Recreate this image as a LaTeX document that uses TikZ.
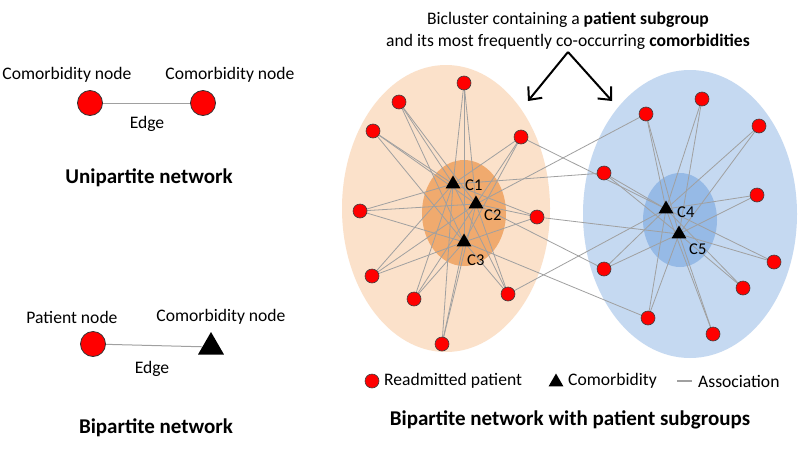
\documentclass[tikz,border=0pt]{standalone}
\usepackage{fontspec}
\setmainfont{Carlito}
\usetikzlibrary{shapes.geometric,arrows.meta}
\pgfdeclarelayer{bg}
\pgfdeclarelayer{edges}
\pgfsetlayers{bg,edges,main}
\definecolor{orout}{RGB}{251,225,202}
\definecolor{orin}{RGB}{240,170,110}
\definecolor{blout}{RGB}{197,217,241}
\definecolor{blin}{RGB}{150,186,230}
\definecolor{redn}{RGB}{255,0,0}
\definecolor{edgegray}{RGB}{160,160,160}
\begin{document}
\begin{tikzpicture}[x=1pt,y=-1pt,
  pat/.style={circle,fill=redn,draw=black!75,line width=0.6pt,minimum size=14pt,inner sep=0pt},
  bigpat/.style={circle,fill=redn,draw=black!80,line width=0.8pt,minimum size=25pt,inner sep=0pt},
  com/.style={regular polygon,regular polygon sides=3,fill=black,inner sep=0pt,minimum size=17pt},
  bigcom/.style={regular polygon,regular polygon sides=3,fill=black,inner sep=0pt,minimum size=30pt},
  assoc/.style={draw=edgegray,line width=0.8pt},
  lbl/.style={font=\fontsize{17.6}{21}\selectfont,inner sep=0pt},
  clbl/.style={font=\fontsize{16.5}{19}\selectfont,inner sep=0pt,anchor=west},
  ttl/.style={font=\fontsize{21}{25}\selectfont\bfseries,inner sep=0pt},
  callout/.style={draw=black,line width=2pt,-{Straight Barb[length=10pt,width=18pt,line width=2pt]}}
]
\useasboundingbox (0,0) rectangle (800,453);
\begin{pgfonlayer}{bg}
\fill[white] (0,0) rectangle (800,453);
\end{pgfonlayer}

% ---------- Left panel: unipartite ----------
\node[lbl] (ulab1) at (67,75) {Comorbidity node};
\node[lbl] (ulab2) at (230,75) {Comorbidity node};
\node[bigpat] (u1) at (90,103) {};
\node[bigpat] (u2) at (203,103) {};
\begin{pgfonlayer}{edges}
\draw[assoc,line width=1pt] (u1) -- (u2);
\end{pgfonlayer}
\node[lbl] (uedge) at (147,124) {Edge};
\node[ttl] (uttl) at (149,178) {Unipartite network};

% ---------- Left panel: bipartite ----------
\node[lbl] (blab1) at (72,317) {Patient node};
\node[lbl] (blab2) at (221,317) {Comorbidity node};
\node[bigpat] (bp) at (93,344) {};
\node[bigcom] (bc) at (211,347) {};
\begin{pgfonlayer}{edges}
\draw[assoc,line width=1pt] (bp) -- (bc);
\end{pgfonlayer}
\node[lbl] (bedge) at (152,369) {Edge};
\node[ttl] (bttl) at (156,428) {Bipartite network};

% ---------- Ellipses ----------
\begin{pgfonlayer}{bg}
\fill[orout] (446,208.5) ellipse [x radius=104, y radius=143.5];
\fill[orin] (464,213) ellipse [x radius=42, y radius=53];
\fill[blout] (690,214) ellipse [x radius=107, y radius=144];
\fill[blin] (680,220) ellipse [x radius=37, y radius=47];
\end{pgfonlayer}

% ---------- Orange cluster ----------
\node[pat] (o1) at (464,83) {};
\node[pat] (o2) at (399,102) {};
\node[pat] (o3) at (373,131) {};
\node[pat] (o4) at (521,137) {};
\node[pat] (o5) at (360,211) {};
\node[pat] (o6) at (537,217) {};
\node[pat] (o7) at (372,276) {};
\node[pat] (o8) at (414,299) {};
\node[pat] (o9) at (508,294) {};
\node[pat] (o10) at (442,344) {};
\node[com] (c1) at (453,184) {};
\node[com] (c2) at (476,204) {};
\node[com] (c3) at (464,242) {};
\node[clbl] (lc1) at (465,185) {C1};
\node[clbl] (lc2) at (484,215) {C2};
\node[clbl] (lc3) at (467,260) {C3};

% ---------- Blue cluster ----------
\node[pat] (b1) at (646,114) {};
\node[pat] (b2) at (702,99) {};
\node[pat] (b3) at (759,126) {};
\node[pat] (b4) at (604,173) {};
\node[pat] (b5) at (757,195) {};
\node[pat] (b6) at (604,269) {};
\node[pat] (b7) at (774,262) {};
\node[pat] (b8) at (743,288) {};
\node[pat] (b9) at (648,318) {};
\node[pat] (b10) at (713,334) {};
\node[com] (c4) at (666,209) {};
\node[com] (c5) at (679,234) {};
\node[clbl] (lc4) at (677,212) {C4};
\node[clbl] (lc5) at (689,249) {C5};

% ---------- Associations ----------
\begin{pgfonlayer}{edges}
\foreach \p in {o1,o2,o3,o4,o5,o6,o7,o8,o9,o10}
  \foreach \c in {c1,c2,c3}
    \draw[assoc] (\p.center) -- (\c.center);
\foreach \p in {b1,b2,b3,b4,b5,b6,b7,b8,b9,b10}
  \foreach \c in {c4,c5}
    \draw[assoc] (\p.center) -- (\c.center);
\draw[assoc] (o4.center) -- (c4.center);
\draw[assoc] (o6.center) -- (c5.center);
\draw[assoc] (o9.center) -- (c4.center);
\draw[assoc] (b1.center) -- (c2.center);
\draw[assoc] (b4.center) -- (c1.center);
\draw[assoc] (b6.center) -- (c2.center);
\draw[assoc] (b9.center) -- (c3.center);
\end{pgfonlayer}

% ---------- Callout ----------
\node[lbl] (top1) at (568,20) {Bicluster containing a \textbf{patient subgroup}};
\node[lbl] (top2) at (568,42) {and its most frequently co-occurring \textbf{comorbidities}};
\coordinate (apex) at (568,52);
\coordinate (tipL) at (528,101);
\coordinate (tipR) at (612,101);
\draw[callout] (apex) -- (tipL);
\draw[callout] (apex) -- (tipR);

% ---------- Legend ----------
\node[pat] (legp) at (372,381) {};
\node[lbl,anchor=west] (legpt) at (384,381) {Readmitted patient};
\node[com] (legc) at (556,382) {};
\node[lbl,anchor=west] (legct) at (568,381) {Comorbidity};
\coordinate (legl1) at (677,381);
\coordinate (legl2) at (692,381);
\draw[assoc,line width=1.5pt] (legl1) -- (legl2);
\node[lbl,anchor=west] (leglt) at (698,381) {Association};
\node[ttl] (rttl) at (570,420) {Bipartite network with patient subgroups};
\end{tikzpicture}
\end{document}
